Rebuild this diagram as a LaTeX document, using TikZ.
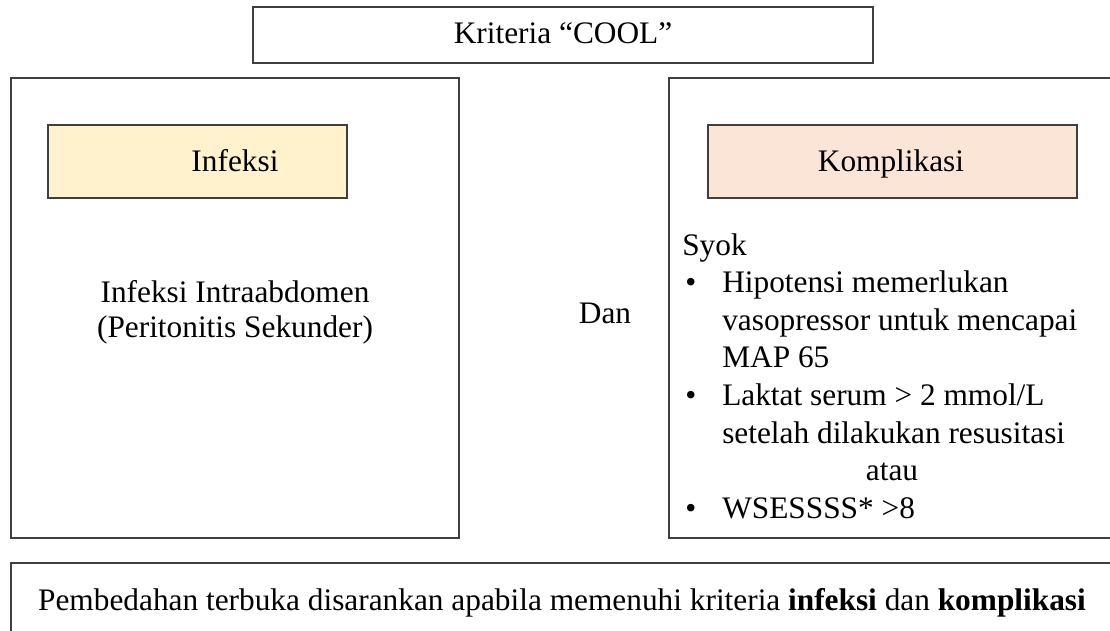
\documentclass[tikz,border=0pt]{standalone}
\usepackage{fontspec}
\setmainfont{Liberation Serif}
\usetikzlibrary{fit}
\definecolor{edgegray}{HTML}{3F3F3F}
\definecolor{infyellow}{HTML}{FFF2CC}
\definecolor{kompeach}{HTML}{FBE5D6}

\begin{document}
\begin{tikzpicture}[x=0.75pt,y=-0.75pt,
  every node/.style={font=\fontsize{23.5}{27}\selectfont},
  frame/.style={draw=edgegray, line width=1.1pt, inner sep=0pt},
  lbl/.style={inner sep=0pt, anchor=base},
  item/.style={inner sep=0pt, anchor=base west}]
  \useasboundingbox (0,0) rectangle (1110,631);
  % boxes
  \node[frame, fit={(253,7) (873,63)}] (coolbox) {};
  \node[frame, fit={(11,78) (459,538)}] (leftbox) {};
  \node[frame, fit={(669,78) (1120,538)}] (rightbox) {};
  \node[frame, fill=infyellow, fit={(48,125) (347,198)}] (infbox) {};
  \node[frame, fill=kompeach, fit={(708,125) (1077,198)}] (kombox) {};
  \node[frame, fit={(11,563) (1120,645)}] (notebox) {};
  % texts
  \node[lbl] (cool) at (563,44) {Kriteria “COOL”};
  \node[lbl] (inf) at (235,172) {Infeksi};
  \node[lbl] (kom) at (891,172) {Komplikasi};
  \node[lbl] (intra) at (235,302) {Infeksi Intraabdomen};
  \node[lbl] (perit) at (235,337) {(Peritonitis Sekunder)};
  \node[lbl] (dan) at (605,323) {Dan};
  \node[item] (syok) at (682,255) {Syok};
  \foreach \y/\n in {292.6/b1, 405.4/b2, 518.2/b3}
    \node[item] (\n) at (685,\y) {\textbullet};
  \foreach \y/\t [count=\i] in {292.6/{Hipotensi memerlukan}, 330.2/{vasopressor untuk mencapai}, 367.8/{MAP 65}, 405.4/{Laktat serum > 2 mmol/L}, 443/{setelah dilakukan resusitasi}, 518.2/{WSESSSS* >8}}
    \node[item] (line\i) at (722,\y) {\t};
  \node[lbl] (atau) at (892,480.6) {atau};
  \node[lbl] (note) at (562,610) {Pembedahan terbuka disarankan apabila memenuhi kriteria \textbf{infeksi} dan \textbf{komplikasi}};
\end{tikzpicture}
\end{document}
